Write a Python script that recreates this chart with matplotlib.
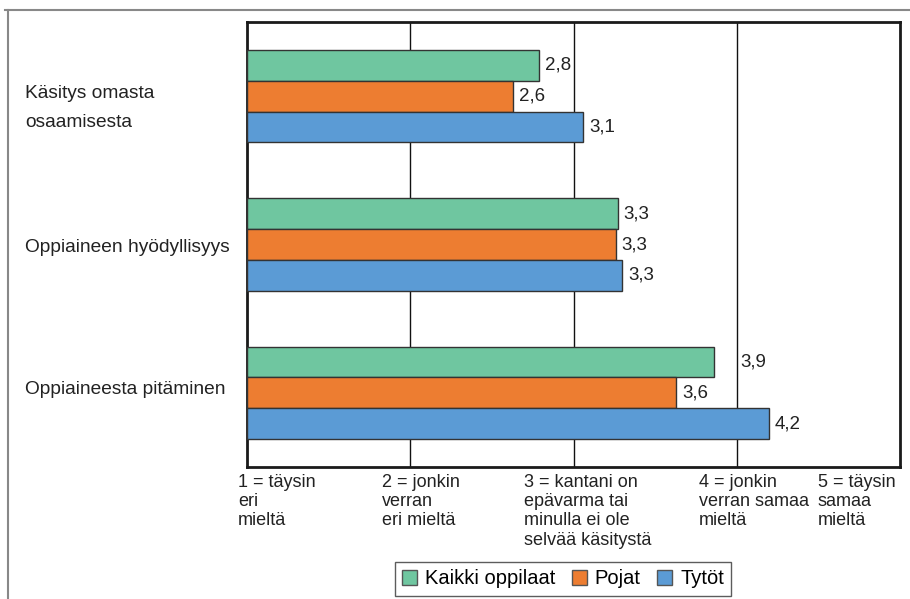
import matplotlib
matplotlib.use("Agg")
import matplotlib.pyplot as plt
from matplotlib.lines import Line2D
from matplotlib.patches import Patch
import numpy as np
import math

categories = ["Käsitys omasta\nosaamisesta", "Oppiaineen hyödyllisyys", "Oppiaineesta pitäminen"]
series = ["Kaikki oppilaat", "Pojat", "Tytöt"]
kaikki = [2.79, 3.27, 3.86]
pojat = [2.63, 3.26, 3.63]
tytot = [3.06, 3.30, 4.20]
tick_values = [1, 2, 3, 4, 5]
tick_labels = ["1 = täysin\neri\nmieltä", "2 = jonkin\nverran\neri mieltä",
               "3 = kantani on\nepävarma tai\nminulla ei ole\nselvää käsitystä",
               "4 = jonkin\nverran samaa\nmieltä", "5 = täysin\nsamaa\nmieltä"]

colors = ["#6fc6a0", "#ed7d31", "#5b9bd5"]
fam = ["Liberation Sans", "DejaVu Sans"]
plt.rcParams['font.family'] = fam
txtc = "#222222"

W, H = 910, 599
fig = plt.figure(figsize=(W / 100, H / 100), dpi=100)
ax = fig.add_axes([247 / W, 1 - 467 / H, (900 - 247) / W, (467 - 22) / H])

y = np.arange(len(categories))
bh = 0.208
data = [kaikki, pojat, tytot]
for k, (vals, c) in enumerate(zip(data, colors)):
    pos = y + (k - 1) * bh
    ax.barh(pos, np.array(vals) - 1, left=1, height=bh, color=c,
            edgecolor="#333333", linewidth=1.0, zorder=3)
    for p, v in zip(pos, vals):
        x = v + 0.035
        if math.ceil(v) - v < 0.15:
            x = math.ceil(v) + 0.02
        ax.text(x, p, f"{v:.1f}".replace(".", ","), va="center", ha="left",
                fontsize=13.5, color=txtc, zorder=4)

ax.set_xlim(1, 5)
ax.set_ylim(len(categories) - 0.5, -0.5)
for t in tick_values[1:-1]:
    ax.axvline(t, color="#111111", linewidth=1.0, zorder=1)
for s in ax.spines.values():
    s.set_color("#1a1a1a")
    s.set_linewidth(2.0)
ax.set_xticks([])
ax.set_yticks([])

# tick label left edges relative to their gridlines (pixels)
tick_shift = [-9, -28, -49, -38, -82]
for t, lab, dx in zip(tick_values, tick_labels, tick_shift):
    ax.annotate(lab, xy=(t, 0), xycoords=("data", "axes fraction"),
                xytext=(dx * 0.72, -5), textcoords="offset points",
                ha="left", va="top", fontsize=13, color=txtc, linespacing=1.17)

cat_y = [108, 248, 390]
for cat, cy in zip(categories, cat_y):
    fig.text(25 / W, 1 - cy / H, cat, ha="left", va="center",
             fontsize=13.8, color=txtc, linespacing=1.85)

handles = [Patch(facecolor=c, edgecolor="#555555", linewidth=1.0) for c in colors]
leg = fig.legend(handles, series, loc="center", bbox_to_anchor=(563 / W, 1 - 579 / H),
                 ncol=3, frameon=True, fontsize=14.5, handlelength=0.75, handleheight=0.75,
                 handletextpad=0.4, columnspacing=0.8, borderpad=0.35,
                 fancybox=False, edgecolor="#333333")
leg.get_frame().set_linewidth(1.0)

# outer frame
fig.add_artist(Line2D([5 / W, 1], [1 - 10 / H, 1 - 10 / H], transform=fig.transFigure,
                      color="#888888", linewidth=1.5))
fig.add_artist(Line2D([8 / W, 8 / W], [1 - 10 / H, 0], transform=fig.transFigure,
                      color="#888888", linewidth=1.5))

fig.savefig("out.png", dpi=100)
